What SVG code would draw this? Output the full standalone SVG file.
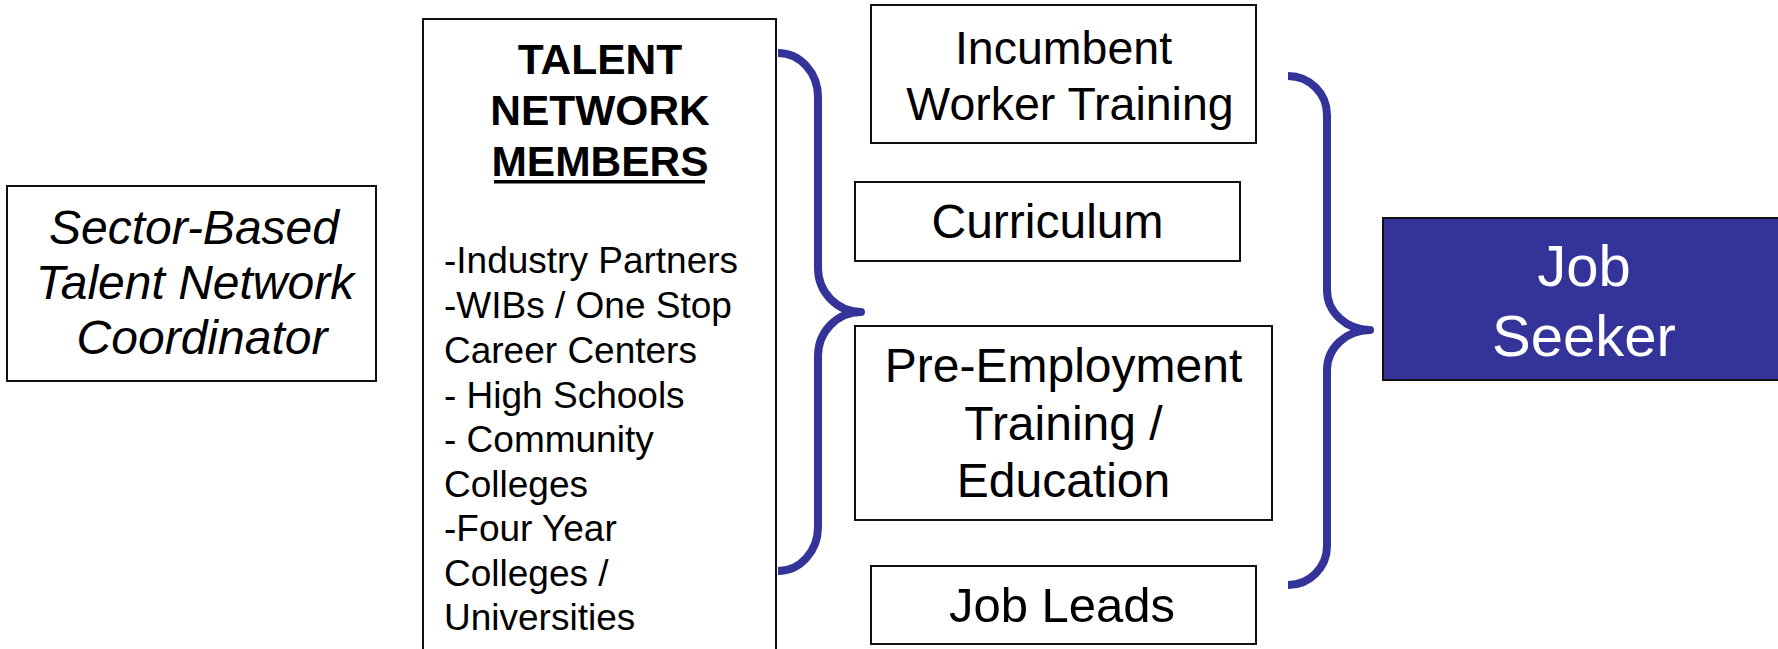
<svg xmlns="http://www.w3.org/2000/svg" width="1778" height="649" viewBox="0 0 1778 649">
  <style>
    .box { fill: #ffffff; stroke: #111111; stroke-width: 2; }
    .dark { fill: #333399; stroke: #111111; stroke-width: 2; }
    .lbl { font-family: "Liberation Sans", Arial, sans-serif; fill: #000000; }
    .mid { text-anchor: middle; }
    .brace { fill: none; stroke: #333399; stroke-width: 8; stroke-linejoin: round; stroke-linecap: butt; }
  </style>
  <rect width="1778" height="649" fill="#ffffff"/>

  <!-- coordinator -->
  <g id="coordinator">
    <rect class="box" x="7" y="186" width="369" height="195"/>
    <g class="lbl mid" font-size="48" font-style="italic">
      <text x="194" y="244">Sector-Based</text>
      <text x="195" y="299">Talent Network</text>
      <text x="202" y="354">Coordinator</text>
    </g>
  </g>

  <!-- talent network members -->
  <g id="members">
    <rect class="box" x="423" y="19" width="353" height="650"/>
    <g class="lbl mid" font-size="42.5" font-weight="bold">
      <text x="600" y="74">TALENT</text>
      <text x="600" y="125">NETWORK</text>
      <text x="600" y="176">MEMBERS</text>
    </g>
    <rect x="494" y="180" width="211" height="3.5" fill="#000000"/>
    <g class="lbl" font-size="37">
      <text x="444" y="273">-Industry Partners</text>
      <text x="444" y="318">-WIBs / One Stop</text>
      <text x="444" y="363">Career Centers</text>
      <text x="444" y="408">- High Schools</text>
      <text x="444" y="452">- Community</text>
      <text x="444" y="497">Colleges</text>
      <text x="444" y="541">-Four Year</text>
      <text x="444" y="586">Colleges /</text>
      <text x="444" y="630">Universities</text>
    </g>
  </g>

  <!-- services -->
  <g id="incumbent">
    <rect class="box" x="871" y="5" width="385" height="138"/>
    <g class="lbl mid" font-size="46.5">
      <text x="1063.5" y="64">Incumbent</text>
      <text x="1070" y="120">Worker Training</text>
    </g>
  </g>

  <g id="curriculum">
    <rect class="box" x="855" y="182" width="385" height="79"/>
    <text class="lbl mid" font-size="48" x="1047.5" y="238">Curriculum</text>
  </g>

  <g id="pre-employment">
    <rect class="box" x="855" y="326" width="417" height="194"/>
    <g class="lbl mid" font-size="48">
      <text x="1063.5" y="382">Pre-Employment</text>
      <text x="1063.5" y="440">Training /</text>
      <text x="1063.5" y="497">Education</text>
    </g>
  </g>

  <g id="job-leads">
    <rect class="box" x="871" y="566" width="385" height="78"/>
    <text class="lbl mid" font-size="49" x="1062" y="622">Job Leads</text>
  </g>

  <!-- job seeker -->
  <g id="job-seeker">
    <rect class="dark" x="1383" y="218" width="420" height="162"/>
    <g class="lbl mid" font-size="58" style="fill:#ffffff">
      <text x="1584" y="286">Job</text>
      <text x="1584" y="356">Seeker</text>
    </g>
  </g>

  <!-- braces -->
  <g id="connectors">
    <path class="brace" d="M778,53 A40,44 0 0 1 818,97 L818,268 A43,44 0 0 0 861,312 A43,44 0 0 0 818,356 L818,527 A40,44 0 0 1 778,571"/>
    <path class="brace" d="M1288,76 A39,39 0 0 1 1327,115 L1327,290 A43,40 0 0 0 1370,330 A43,40 0 0 0 1327,370 L1327,546 A39,39 0 0 1 1288,585"/>
  </g>
</svg>
